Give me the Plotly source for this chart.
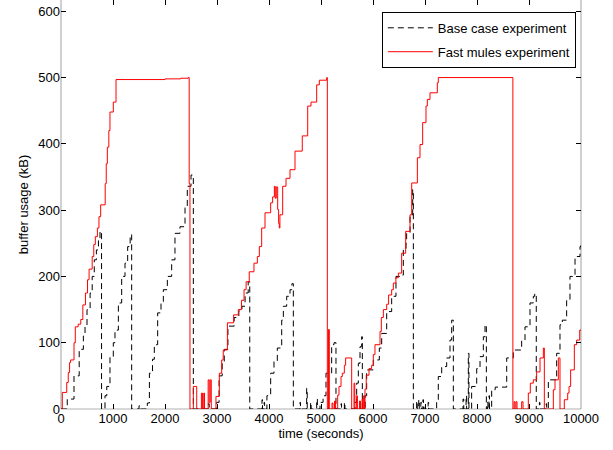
import plotly.graph_objects as go

# Fast mules experiment (red, step curve: x where level begins, level in kB)
fast_x = [0, 25, 110, 140, 165, 185, 250, 275, 330, 380, 420, 470, 510, 540, 600, 630, 660, 700, 730, 763,
          850, 870, 891, 920, 942, 1006, 1058, 1500, 2000, 2300, 2448, 2465, 2480,
          2545, 2610, 2700, 2720, 2745, 2760, 2830, 2850, 2870, 2890,
          2980, 3045, 3090, 3120, 3200, 3320, 3410, 3470, 3520, 3560, 3620, 3711, 3776, 3814, 3859, 3923,
          4032, 4070, 4103, 4120, 4140, 4167, 4185, 4198, 4210, 4263, 4327, 4404, 4500, 4640, 4744,
          4808, 4917, 4968, 5109, 5122, 5145, 5160, 5212, 5230, 5260, 5280,
          5321, 5346, 5385, 5410, 5449, 5474, 5590, 5635, 5650, 5680, 5700, 5740, 5760, 5790, 5800, 5820, 5835,
          5846, 5870, 5923, 5974, 6006, 6038, 6135, 6160, 6199, 6263, 6300, 6359, 6391, 6440, 6487, 6551,
          6628, 6712, 6744, 6853, 6904, 6955, 7019, 7045, 7096, 7237, 7256, 8690,
          8712, 8730, 8750, 8770, 8859, 8885, 8987, 9025, 9083, 9147, 9212, 9276, 9295,
          9468, 9500, 9564, 9596, 9679, 9744, 9770, 9801, 9872, 9917, 9975, 10000]
fast_y = [0, 25, 40, 55, 70, 74, 100, 124, 128, 135, 157, 175, 195, 211, 230, 248, 260, 273, 290, 308,
          340, 370, 395, 420, 448, 463, 497, 497, 498, 499, 500, 340, 0,
          34, 0, 24, 0, 24, 0, 44, 10, 44, 0,
          19, 54, 74, 89, 130, 142, 150, 164, 180, 192, 207, 220, 230, 245, 273, 296,
          311, 320, 336, 318, 335, 301, 280, 273, 293, 336, 348, 361, 389, 412, 457,
          463, 489, 496, 500, 0, 120, 0, 9, 0, 12, 0,
          21, 34, 49, 54, 66, 77, 0, 39, 0, 20, 0, 12, 0, 15, 0, 20, 0,
          30, 51, 61, 66, 82, 97, 117, 138, 150, 158, 172, 180, 190, 198, 205, 235,
          268, 293, 341, 379, 399, 432, 457, 467, 477, 492, 500, 0,
          11, 0, 11, 0, 11, 0, 24, 39, 44, 56, 77, 92, 0,
          29, 44, 77, 0, 14, 24, 34, 59, 97, 104, 119, 119]

# Base case experiment (black dashed, step curve)
base_x = [0, 120, 250, 350, 430, 462, 500, 560, 600, 640, 680, 720, 750, 780,
          846, 880, 942, 1006, 1038, 1103, 1167, 1231, 1282, 1330, 1359, 1500, 1520,
          1660, 1700, 1760, 1795, 1859, 1923, 1968, 2045, 2128, 2192, 2288, 2385, 2429, 2500, 2545,
          2833, 2850, 2990, 3040, 3100, 3140, 3210, 3330, 3420, 3480, 3540, 3600, 3630,
          3865, 3875, 3905, 3915, 3960, 4032, 4096, 4160, 4244, 4276, 4340, 4404, 4440, 4468,
          4596, 4605, 4724, 4735, 4800, 4810, 4917, 4930, 4981, 5040, 5096, 5205, 5250, 5288,
          5385, 5395, 5450, 5460, 5654, 5686, 5718, 5750, 5782, 5795, 5850, 5878,
          6006, 6122, 6167, 6263, 6359, 6442, 6519, 6583, 6635, 6647, 6712, 6763, 6776,
          6840, 6850, 6880, 6890, 6920, 6930, 6960, 6970, 7000, 7010, 7060, 7070,
          7224, 7256, 7321, 7417, 7481, 7513, 7545, 7731, 7745, 7790, 7800, 7833, 7845,
          7897, 7994, 8058, 8122, 8154, 8180, 8200, 8210, 8230, 8240,
          8282, 8350, 8538, 8571, 8698, 8859, 8923, 9019, 9083, 9110, 9140,
          9200, 9210, 9330, 9340, 9372, 9532, 9596, 9641, 9724, 9788, 9885, 9981, 10000]
base_y = [0, 15, 50, 90, 110, 124, 150, 175, 200, 225, 240, 255, 268, 0,
          20, 34, 79, 100, 119, 160, 200, 220, 245, 263, 0, 5, 0,
          9, 54, 75, 97, 145, 162, 180, 200, 225, 265, 275, 306, 336, 353, 0,
          8, 0, 10, 50, 70, 90, 125, 138, 148, 155, 175, 192, 0,
          14, 0, 10, 0, 20, 54, 72, 92, 134, 155, 170, 180, 189, 0,
          10, 0, 31, 0, 10, 0, 15, 0, 10, 20, 54, 97, 100, 0,
          8, 0, 10, 0, 10, 39, 69, 94, 109, 0, 20, 59,
          74, 92, 114, 147, 170, 200, 202, 240, 250, 265, 290, 331, 0,
          12, 0, 14, 0, 10, 0, 14, 0, 8, 0, 10, 0,
          14, 49, 64, 77, 104, 134, 0, 15, 0, 20, 0, 84, 0,
          34, 61, 79, 109, 127, 0, 10, 0, 20, 0,
          29, 33, 33, 77, 89, 104, 124, 160, 170, 174, 0,
          10, 0, 8, 0, 44, 84, 127, 134, 165, 200, 230, 245, 247]

x_ticks = [0, 1000, 2000, 3000, 4000, 5000, 6000, 7000, 8000, 9000, 10000]
y_ticks = [0, 100, 200, 300, 400, 500, 600]

FONT = "Liberation Sans, Arial, sans-serif"

fig = go.Figure()
fig.add_trace(go.Scatter(x=base_x, y=base_y, mode="lines", line_shape="hv",
                         name="Base case experiment", legendgroup="a",
                         line=dict(color="black", width=1, dash="6px,4px")))
fig.add_trace(go.Scatter(x=fast_x, y=fast_y, mode="lines", line_shape="hv",
                         name="Fast mules experiment", legendgroup="b",
                         line=dict(color="#ff0000", width=1)))

axis_common = dict(showgrid=False, zeroline=False, showline=False, mirror="ticks",
                   ticks="inside", ticklen=5, tickwidth=1, tickcolor="black",
                   automargin=False,
                   tickfont=dict(family=FONT, size=13, color="black"))

fig.update_layout(template="simple_white")
fig.update_xaxes(range=[0, 10000], tickvals=x_ticks, ticktext=[str(v) for v in x_ticks],
                 title=dict(text="time (seconds)", font=dict(family=FONT, size=13, color="black"), standoff=2),
                 **axis_common)
fig.update_yaxes(range=[0, 617], tickvals=y_ticks, ticktext=[str(v) for v in y_ticks],
                 title=dict(text="buffer usage (kB)", font=dict(family=FONT, size=13, color="black"), standoff=6),
                 **axis_common)

# Axis frame (left, bottom, right); top edge lies outside the picture
for x0, y0, x1, y1 in [(0, 0, 0, 1), (0, 0, 1, 0), (1, 0, 1, 1)]:
    fig.add_shape(type="line", xref="paper", yref="paper", x0=x0, y0=y0, x1=x1, y1=y1,
                  line=dict(color="black", width=1.2))

fig.update_layout(
    width=613, height=450,
    margin=dict(l=61, r=32, t=0, b=41, autoexpand=False),
    plot_bgcolor="white", paper_bgcolor="white",
    font=dict(family=FONT, size=13, color="black"),
    showlegend=True,
    legend=dict(x=0.617, y=0.971, xanchor="left", yanchor="top",
                bordercolor="black", borderwidth=1, bgcolor="white",
                font=dict(family=FONT, size=13, color="black"),
                tracegroupgap=4, itemwidth=45),
)

fig.write_html("out.html", config={"displayModeBar": False},
               post_script="document.body.style.margin='0px';document.body.style.padding='0px';")
